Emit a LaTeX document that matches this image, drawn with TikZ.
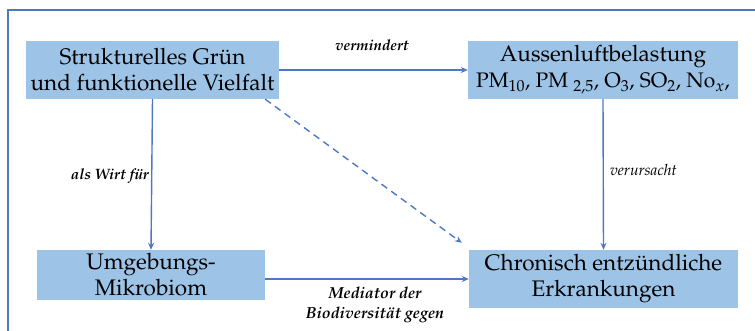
\documentclass[tikz,border=0pt]{standalone}
\usepackage[T1]{fontenc}
\usepackage{mathpazo}
\usetikzlibrary{arrows.meta}
\definecolor{lineblue}{HTML}{4F78C4}
\definecolor{boxblue}{HTML}{9DC3E6}
\tikzset{
  box/.style={fill=boxblue, draw=none, align=center, inner sep=0pt,
    font=\fontsize{22.5}{26}\selectfont},
  conn/.style={draw=lineblue, line width=1.4pt, -{Stealth[length=7pt,width=6pt]}},
  lbl/.style={font=\fontsize{15}{19.5}\selectfont\bfseries\itshape, inner sep=0pt, align=center},
  lbln/.style={font=\fontsize{15.5}{19}\selectfont\itshape, inner sep=0pt},
}
\begin{document}
\begin{tikzpicture}[x=1pt,y=-1pt]
\useasboundingbox (0,0) rectangle (755,331);
\draw[lineblue, line width=1.8pt] (8,331) -- (8,10) -- (755,10);
\node[box, minimum width=253pt, minimum height=58pt] (A) at (152.5,70) {Strukturelles Gr\"un\\und funktionelle Vielfalt};
\node[box, minimum width=270pt, minimum height=58pt] (B) at (603,70) {Aussenluftbelastung\\{\fontsize{21}{26}\selectfont PM\textsubscript{10}, PM \textsubscript{2,5}, O\textsubscript{3}, SO\textsubscript{2}, No$_x$,}};
\node[box, minimum width=228pt, minimum height=50pt] (C) at (151,275) {Umgebungs-\\Mikrobiom};
\node[box, minimum width=269pt, minimum height=58pt] (D) at (603.5,279) {Chronisch entz\"undliche\\Erkrankungen};
\draw[conn] (A.east) -- (B.west);
\draw[conn] (A.south) -- (C.north);
\draw[conn] (B.south) -- (D.north);
\draw[conn] (C.east |- D.west) -- (D.west);
\draw[conn, dashed, dash pattern=on 7pt off 5pt] ([xshift=-14pt]A.south east) -- ([xshift=-7pt,yshift=7pt]D.north west);
\node[lbl] (l1) at (372,45) {vermindert};
\node[lbl, anchor=east] (l2) at (149,176) {als Wirt f\"ur};
\node[lbln, anchor=west] (l3) at (610,170) {verursacht};
\node[lbl, font=\fontsize{16}{20}\selectfont\bfseries\itshape] (l4) at (375,305) {Mediator der\\Biodiversit\"at gegen};
\end{tikzpicture}
\end{document}
